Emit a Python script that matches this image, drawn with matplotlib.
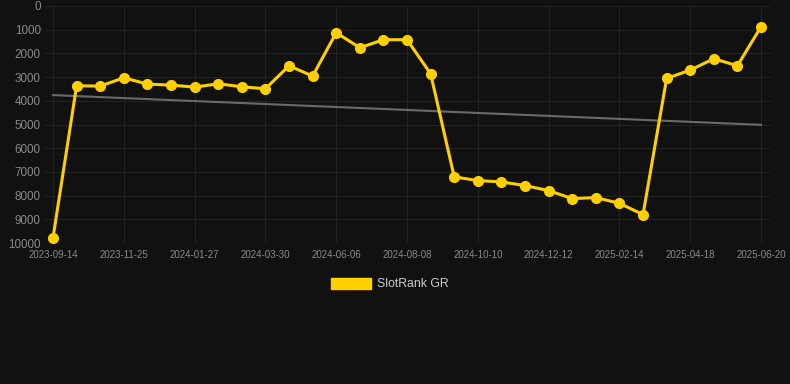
import numpy as np
from matplotlib import pyplot as plt
import matplotlib.patches as mpatches

# one point per snapshot, dates only known at every third point (tick labels)
tick_labels = ['2023-09-14', '2023-11-25', '2024-01-27', '2024-03-30', '2024-06-06',
               '2024-08-08', '2024-10-10', '2024-12-12', '2025-02-14', '2025-04-18',
               '2025-06-20']
rank = [9775, 3366, 3380, 3028, 3296, 3338, 3423, 3282, 3408, 3493,
        2521, 2958, 1127, 1761, 1423, 1423, 2859, 7211, 7366, 7423,
        7577, 7789, 8127, 8085, 8324, 8803, 3056, 2704, 2225, 2521, 873]
trend_ends = [3760, 5014]
series_name = 'SlotRank GR'

bg = '#111111'
yellow = '#FFD000'
plt.rcParams['font.family'] = ['Liberation Sans', 'DejaVu Sans']

fig = plt.figure(figsize=(7.9, 3.84), dpi=100, facecolor=bg)
ax = fig.add_axes([45 / 790, 1 - 243 / 384, 725 / 790, 237 / 384])
ax.set_facecolor(bg)

x = np.arange(len(rank))
ax.plot([x[0], x[-1]], trend_ends, color='#6a6a6a', lw=1.5, zorder=2)
ax.plot(x, rank, color=yellow, lw=2.2, marker='o', ms=7, zorder=3)

ax.set_ylim(10000, 0)
ax.set_xlim(-0.34, len(rank) - 1 + 0.38)
ax.set_yticks(np.arange(0, 10001, 1000))
ax.set_xticks(x[::3])
ax.set_xticklabels(tick_labels)
ax.grid(True, color='#232323', lw=0.8)
ax.set_axisbelow(True)
for s in ax.spines.values():
    s.set_visible(False)
ax.tick_params(axis='y', colors='#8a8a8a', labelsize=8.4, length=0, pad=3)
ax.tick_params(axis='x', colors='#8a8a8a', labelsize=7, length=0, pad=5)

patch = mpatches.Patch(color=yellow, label=series_name)
fig.legend(handles=[patch], loc='center', bbox_to_anchor=(390 / 790, 1 - 284 / 384),
           frameon=False, fontsize=8.8, labelcolor='#cccccc',
           handlelength=3.3, handleheight=1.0, handletextpad=0.5)

fig.savefig('out.png', dpi=100, facecolor=bg)
